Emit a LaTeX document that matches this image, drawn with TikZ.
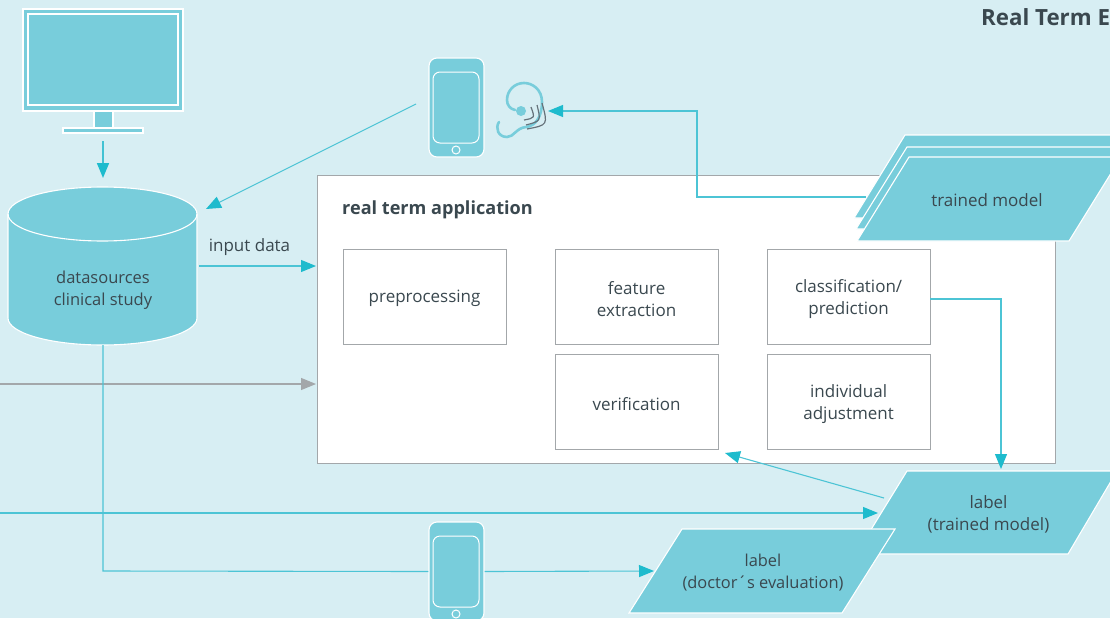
\documentclass[tikz,border=0pt]{standalone}
\usepackage{fontspec}
\setmainfont{Open Sans}
\usetikzlibrary{arrows.meta}
\definecolor{bgc}{HTML}{D7EEF3}
\definecolor{fillc}{HTML}{78CDDB}
\definecolor{arrc}{HTML}{1EBBCD}
\definecolor{linec}{HTML}{4CC4D5}
\definecolor{greyc}{HTML}{A3A7AA}
\definecolor{txt}{HTML}{3A484F}
\definecolor{eargrey}{HTML}{66727A}
\tikzset{
  x=1pt,y=-1pt,
  lbl/.style={font=\fontsize{17}{22}\selectfont,text=txt,align=center,inner sep=0pt},
  stepbox/.style={draw=greyc,line width=0.9pt,fill=white,minimum width=163pt,minimum height=95pt,inner sep=0pt},
  steptext/.style={lbl,yshift=-1.4pt},
  device/.style={fill=fillc,draw=white,line width=1.1pt},
  plate/.style={fill=fillc,draw=white,line width=1.1pt,line join=miter},
  tipc/.style={-{Triangle[length=15pt,width=12pt,color=arrc]}},
  conn/.style={draw=linec,line width=1.1pt,tipc},
  wideconn/.style={draw=arrc!60!fillc,line width=1.7pt,tipc},
  plainconn/.style={draw=linec,line width=1.1pt},
  greyconn/.style={draw=greyc,line width=1.1pt,-{Triangle[length=15pt,width=12pt,color=greyc]}},
}
\begin{document}
\begin{tikzpicture}
\useasboundingbox (0,0) rectangle (1110,618);
\clip (0,0) rectangle (1110,618);
\fill[bgc] (0,0) rectangle (1110,618);
\node[anchor=base west,inner sep=0pt,font=\fontsize{22.3}{26}\selectfont\bfseries,text=txt] (title) at (981,26) {Real Term E};

% application panel
\node[draw=greyc,line width=0.9pt,fill=white,minimum width=738pt,minimum height=288pt,inner sep=0pt] (app) at (686,319) {};
\node[anchor=base west,inner sep=0pt,font=\fontsize{18.1}{22}\selectfont\bfseries,text=txt] (apptitle) at (342,214) {real term application};
\node[stepbox,label={[steptext]center:preprocessing}] (prep) at (424.6,297.3) {};
\node[stepbox,label={[steptext]center:{feature\\extraction}}] (feat) at (636.6,297.3) {};
\node[stepbox,label={[steptext]center:{classification/\\prediction}}] (clas) at (848.6,297.3) {};
\node[stepbox,label={[steptext]center:verification}] (veri) at (636.6,402.3) {};
\node[stepbox,label={[steptext]center:{individual\\adjustment}}] (indi) at (848.6,402.3) {};

% monitor
\draw[device] (94,111) rectangle (113,128);
\draw[device] (63,128) rectangle (143,133);
\draw[device] (23,9) rectangle (183,111);
\draw[device] (28,14) rectangle (178,105);
\coordinate (monout) at (103,141);

% database
\path[device] (8,214) -- (8,318) .. controls (8,333) and (50,345) .. (102.5,345) .. controls (155,345) and (197,333) .. (197,318) -- (197,214)
  .. controls (197,199) and (155,187) .. (102.5,187) .. controls (50,187) and (8,199) .. (8,214) -- cycle;
\draw[white,line width=1.1pt] (8,214) .. controls (8,229) and (50,241) .. (102.5,241) .. controls (155,241) and (197,229) .. (197,214);
\node[lbl,font=\fontsize{16.5}{22}\selectfont] (db) at (103,290) {datasources\\clinical study};
\coordinate (dbtop) at (103,178);
\coordinate (dbin) at (206,209);
\coordinate (dbout) at (199,266);
\coordinate (dbbot) at (103,345);
\node[lbl] (inp) at (249.5,247) {input data};

% phone top
\node[device,rounded corners=8pt,minimum width=55pt,minimum height=99pt,inner sep=0pt] (ph1) at (456.5,107.5) {};
\draw[fill=fillc,draw=white,line width=1pt,rounded corners=7pt] (433,72) rectangle (479,143);
\draw[white,line width=1pt] (456,150) circle[radius=4];
\coordinate (ph1out) at (416,104);

% ear
\fill[fillc] (521,111) circle[radius=5];
\draw[fillc,line width=2.6pt,line cap=round] (499,122) .. controls (495,128) and (498,137) .. (507,137)
  .. controls (514,137) and (516,128) .. (526,127) .. controls (536,126) and (542,116) .. (542,102)
  .. controls (542,90) and (533,83) .. (524,83) .. controls (514,83) and (507,91) .. (507,100) .. controls (507,105) and (510,109) .. (515,110);
\draw[eargrey,line width=1.2pt] (531,107) .. controls (535,118) .. (524,120);
\draw[eargrey,line width=1.2pt] (537,105) .. controls (541,121) .. (526,125);
\draw[eargrey,line width=1.2pt] (542,103) .. controls (548,125) .. (527,129);
\coordinate (earin) at (548,111);

% trained model stack
\path[plate] (905,135) -- (1125,135) -- (1074,218) -- (854,218) -- cycle;
\path[plate] (907,147) -- (1127,147) -- (1076,229) -- (856,229) -- cycle;
\path[plate] (909,157) -- (1121,157) -- (1069,241) -- (857,241) -- cycle;
\node[lbl] (model) at (987,200) {trained model};
\coordinate (modelout) at (866,197);

% label trained
\path[plate] (907,471) -- (1117,471) -- (1068,554) -- (856,554) -- cycle;
\node[lbl] (ltrain) at (988.5,514.5) {label\\(trained model)};
\coordinate (ltin) at (878,513);
\coordinate (ltout) at (884,498);
\coordinate (ltbtop) at (1001,469);

% label doctor
\path[plate] (682,529) -- (895,529) -- (842,613) -- (629,613) -- cycle;
\node[lbl,font=\fontsize{16.4}{21.5}\selectfont] (ldoc) at (763,572.5) {label\\(doctor´s evaluation)};
\coordinate (ldin) at (654,571);

% phone bottom
\node[device,rounded corners=8pt,minimum width=55pt,minimum height=99pt,inner sep=0pt] (ph2) at (456.5,571.5) {};
\draw[fill=fillc,draw=white,line width=1pt,rounded corners=7pt] (433,536) rectangle (479,607);
\draw[white,line width=1pt] (456,614) circle[radius=4];

% free left ends and verification target
\coordinate (leftgrey) at (0,384);
\coordinate (leftline) at (0,513);
\coordinate (appgrey) at (316,384);
\coordinate (appin) at (316,266);
\coordinate (veriin) at (725,453);
\coordinate (clasout) at (930,299);

% connectors
\draw[wideconn] (monout) -- (dbtop);
\draw[conn] (ph1out) -- (dbin);
\draw[conn] (dbout) -- (appin);
\draw[greyconn] (leftgrey) -- (appgrey);
\draw[conn] (modelout) -- (697,197) -- (697,111) -- (earin);
\draw[conn] (clasout) -- (1001,299) -- (ltbtop);
\draw[conn] (ltout) -- (veriin);
\draw[conn] (leftline) -- (ltin);
\draw[plainconn] (dbbot) -- (103,571) -- (ph2.west);
\draw[conn] (ph2.east) -- (ldin);
\end{tikzpicture}
\end{document}
